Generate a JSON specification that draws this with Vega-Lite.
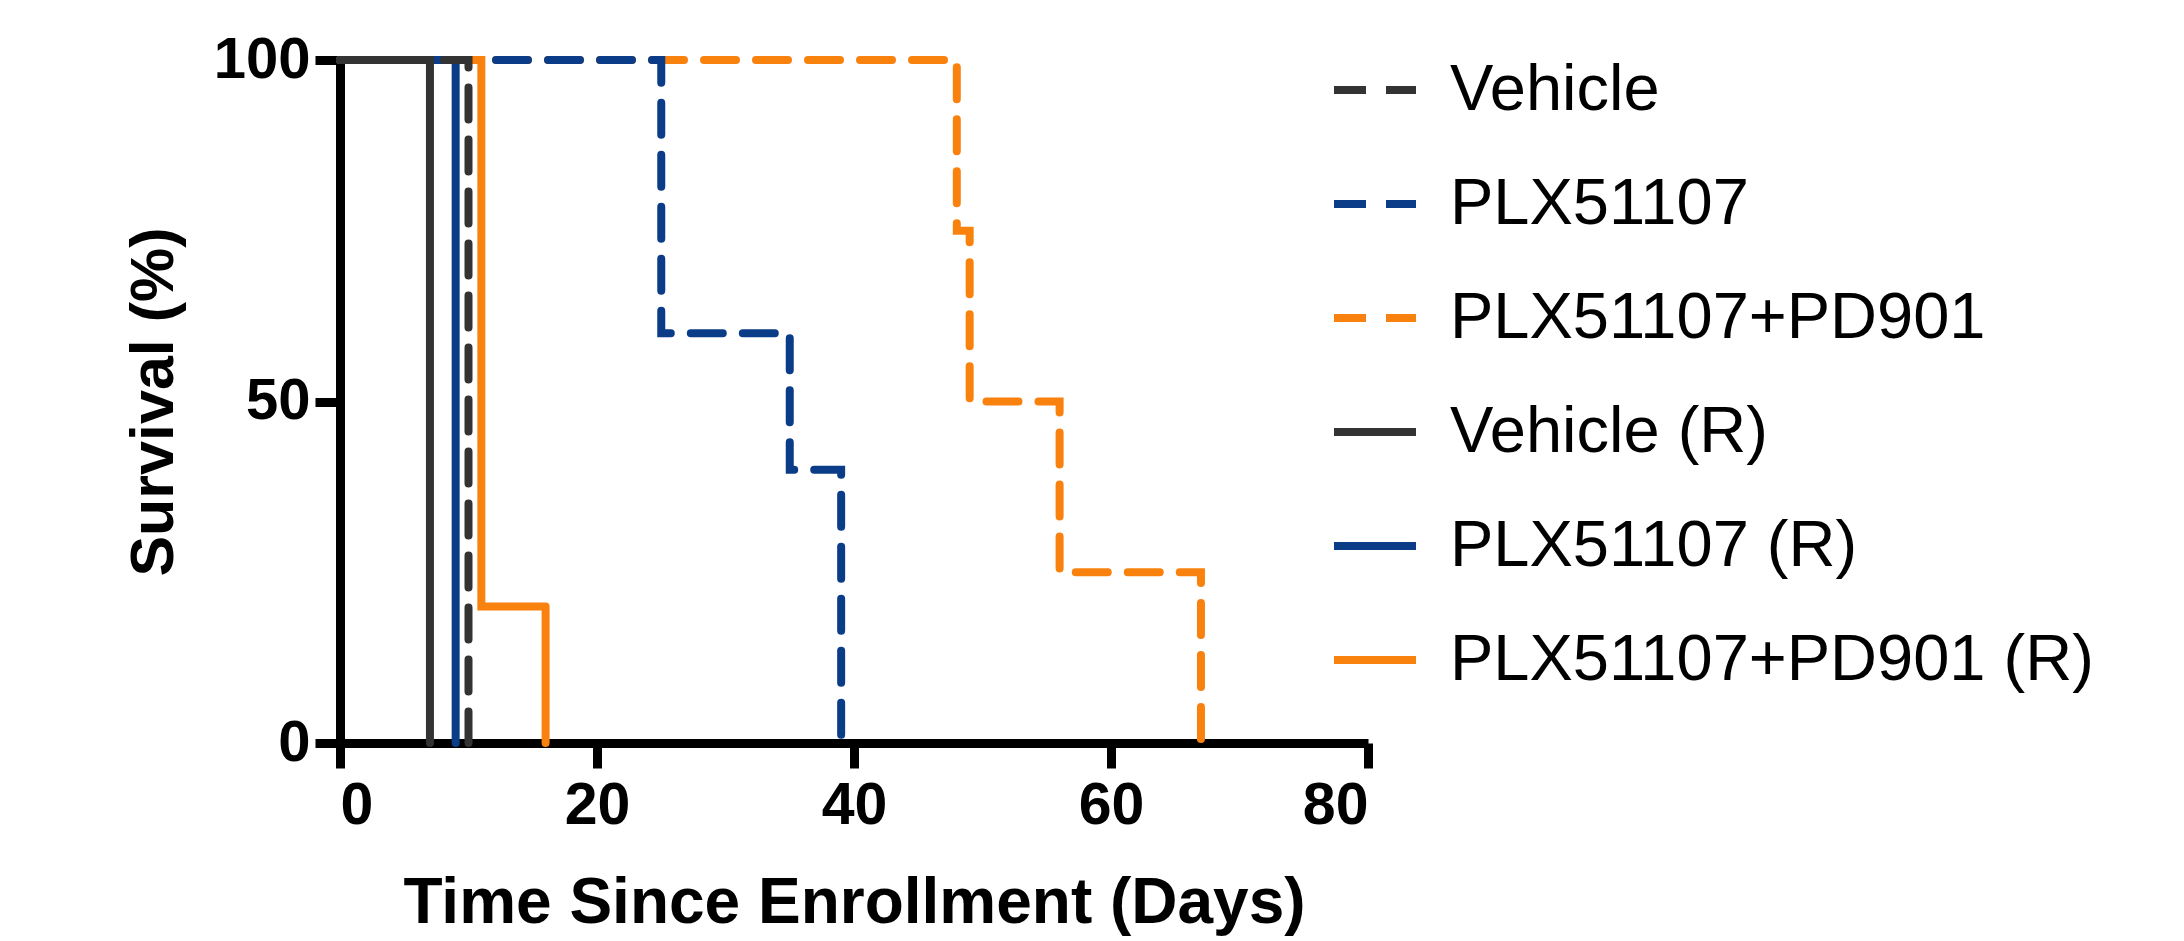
{
  "$schema": "https://vega.github.io/schema/vega-lite/v6.json",
  "width": 1028,
  "height": 683,
  "autosize": "none",
  "padding": {"left": 340, "top": 60, "right": 816, "bottom": 198},
  "background": "white",
  "config": {"view": {"stroke": null}, "font": "Liberation Sans"},
  "data": {"values": [
    {"series": "PLX51107+PD901", "day": 0, "survival": 100},
    {"series": "PLX51107+PD901", "day": 48, "survival": 75},
    {"series": "PLX51107+PD901", "day": 49, "survival": 50},
    {"series": "PLX51107+PD901", "day": 56, "survival": 25},
    {"series": "PLX51107+PD901", "day": 67, "survival": 0},
    {"series": "PLX51107", "day": 0, "survival": 100},
    {"series": "PLX51107", "day": 25, "survival": 60},
    {"series": "PLX51107", "day": 35, "survival": 40},
    {"series": "PLX51107", "day": 39, "survival": 0},
    {"series": "PLX51107+PD901 (R)", "day": 0, "survival": 100},
    {"series": "PLX51107+PD901 (R)", "day": 11, "survival": 20},
    {"series": "PLX51107+PD901 (R)", "day": 16, "survival": 0},
    {"series": "PLX51107 (R)", "day": 0, "survival": 100},
    {"series": "PLX51107 (R)", "day": 9, "survival": 0},
    {"series": "Vehicle (R)", "day": 0, "survival": 100},
    {"series": "Vehicle (R)", "day": 7, "survival": 0},
    {"series": "Vehicle", "day": 0, "survival": 100},
    {"series": "Vehicle", "day": 10, "survival": 0}
  ]},
  "mark": {"type": "line", "interpolate": "step-after", "strokeWidth": 8, "strokeCap": "round", "strokeJoin": "miter", "clip": false},
  "encoding": {
    "x": {"field": "day", "type": "quantitative",
      "scale": {"domain": [0, 80], "nice": false, "zero": false},
      "axis": {"values": [0, 20, 40, 60, 80], "title": "Time Since Enrollment (Days)", "grid": false,
        "domainColor": "black", "domainWidth": 9, "tickColor": "black", "tickWidth": 9, "tickSize": 25,
        "labelFont": "Liberation Sans", "labelFontWeight": "bold", "labelFontSize": 59, "labelColor": "black", "labelPadding": 8,
        "titleFont": "Liberation Sans", "titleFontWeight": "bold", "titleFontSize": 64, "titleColor": "black", "titlePadding": 36}},
    "y": {"field": "survival", "type": "quantitative",
      "scale": {"domain": [0, 100], "nice": false},
      "axis": {"values": [0, 50, 100], "title": "Survival (%)", "grid": false,
        "domainColor": "black", "domainWidth": 9, "tickColor": "black", "tickWidth": 9, "tickSize": 25,
        "labelFont": "Liberation Sans", "labelFontWeight": "bold", "labelFontSize": 58, "labelColor": "black", "labelPadding": 5,
        "titleFont": "Liberation Sans", "titleFontWeight": "bold", "titleFontSize": 61, "titleColor": "black", "titlePadding": 28}},
    "color": {"field": "series", "type": "nominal",
      "scale": {"domain": ["Vehicle", "PLX51107", "PLX51107+PD901", "Vehicle (R)", "PLX51107 (R)", "PLX51107+PD901 (R)"],
        "range": ["#333333", "#0b3c87", "#f9820f", "#333333", "#0b3c87", "#f9820f"]},
      "legend": {"title": null, "orient": "none", "legendX": 990, "legendY": -15,
        "symbolType": "stroke", "symbolSize": 6724, "symbolStrokeWidth": 8,
        "labelFont": "Liberation Sans", "labelFontSize": 65, "labelColor": "black", "labelOffset": 30, "labelLimit": 1000,
        "rowPadding": 36}},
    "strokeDash": {"field": "series", "type": "nominal",
      "scale": {"domain": ["Vehicle", "PLX51107", "PLX51107+PD901", "Vehicle (R)", "PLX51107 (R)", "PLX51107+PD901 (R)"],
        "range": [[32, 20], [32, 20], [32, 20], [1, 0], [1, 0], [1, 0]]},
      "legend": null}
  }
}
